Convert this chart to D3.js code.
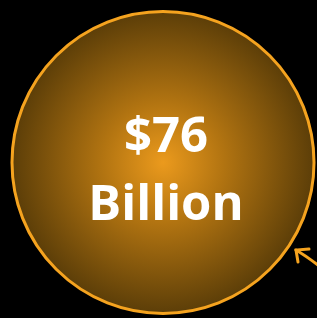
<!DOCTYPE html>
<html>
<head>
<meta charset="utf-8">
<script src="https://cdn.jsdelivr.net/npm/d3@7"></script>
<style>
  html, body { margin: 0; padding: 0; background: #000; overflow: hidden; }
</style>
</head>
<body>
<div id="chart"></div>
<script>
// Single bubble: value and caption lines
const values = [76];
const labelLines = ["$76", "Billion"];

const width = 317;
const height = 318;

const svg = d3.select("#chart").append("svg")
    .attr("width", width)
    .attr("height", height)
    .style("display", "block");

svg.append("rect")
    .attr("width", width)
    .attr("height", height)
    .attr("fill", "#000");

// radial glow for the bubble
const defs = svg.append("defs");
const grad = defs.append("radialGradient")
    .attr("id", "glow")
    .attr("cx", "50%").attr("cy", "50%").attr("r", "50%");
grad.append("stop").attr("offset", "0%").attr("stop-color", "#eb9a1d");
grad.append("stop").attr("offset", "40%").attr("stop-color", "#b27411");
grad.append("stop").attr("offset", "100%").attr("stop-color", "#5c3e08");

const r = d3.scaleSqrt().domain([0, 76]).range([0, 151]);
const cx = 163, cy = 162.5;

svg.selectAll("circle.bubble")
    .data(values)
    .join("circle")
    .attr("class", "bubble")
    .attr("cx", cx)
    .attr("cy", cy)
    .attr("r", d => r(d))
    .attr("fill", "url(#glow)")
    .attr("stroke", "#f5a31f")
    .attr("stroke-width", 3);

// caption
svg.selectAll("text.label")
    .data(labelLines)
    .join("text")
    .attr("class", "label")
    .attr("x", 166)
    .attr("y", (d, i) => 152 + i * 68)
    .attr("text-anchor", "middle")
    .attr("font-family", "'Open Sans', sans-serif")
    .attr("font-weight", 700)
    .attr("font-size", "49px")
    .attr("fill", "#fff")
    .text(d => d);

// pointer arrow coming in from the right edge
const arrow = svg.append("g")
    .attr("fill", "none")
    .attr("stroke", "#f5a31f")
    .attr("stroke-width", 3)
    .attr("stroke-linecap", "round");
arrow.append("path").attr("d", "M318,265 Q306,256 296,250");
arrow.append("path").attr("d", "M309,249 L296,250 L298,262");
</script>
</body>
</html>
